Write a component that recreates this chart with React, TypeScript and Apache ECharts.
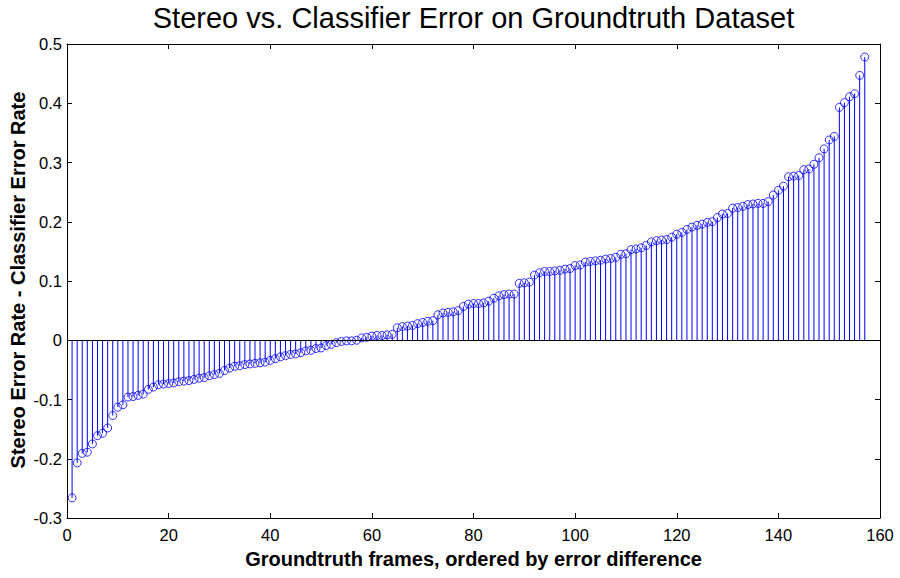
import React, { useEffect, useRef } from "react";
import * as echarts from "echarts";

const TITLE = "Stereo vs. Classifier Error on Groundtruth Dataset";
const X_LABEL = "Groundtruth frames, ordered by error difference";
const Y_LABEL = "Stereo Error Rate - Classifier Error Rate";

// Error difference for each groundtruth frame (frame index = position + 1)
const errorDiff: number[] = [
  -0.266, -0.207, -0.191, -0.189, -0.175, -0.161, -0.157, -0.148, -0.127, -0.113,
  -0.109, -0.096, -0.095, -0.093, -0.091, -0.083, -0.079, -0.075, -0.074, -0.073,
  -0.072, -0.07, -0.069, -0.068, -0.066, -0.064, -0.063, -0.06, -0.058, -0.056,
  -0.051, -0.047, -0.044, -0.043, -0.041, -0.04, -0.039, -0.038, -0.037, -0.034,
  -0.031, -0.028, -0.026, -0.024, -0.023, -0.021, -0.018, -0.017, -0.014, -0.013,
  -0.009, -0.007, -0.004, -0.002, -0.001, -0.001, 0.0, 0.004, 0.005, 0.007,
  0.008, 0.008, 0.009, 0.01, 0.021, 0.023, 0.024, 0.025, 0.028, 0.03,
  0.032, 0.033, 0.043, 0.046, 0.047, 0.048, 0.05, 0.057, 0.061, 0.062,
  0.062, 0.063, 0.066, 0.071, 0.075, 0.077, 0.078, 0.078, 0.096, 0.097,
  0.098, 0.11, 0.114, 0.116, 0.116, 0.117, 0.118, 0.12, 0.121, 0.126,
  0.127, 0.132, 0.133, 0.134, 0.135, 0.137, 0.138, 0.14, 0.145, 0.146,
  0.153, 0.154, 0.156, 0.16, 0.166, 0.168, 0.169, 0.17, 0.174, 0.179,
  0.182, 0.187, 0.191, 0.194, 0.196, 0.199, 0.2, 0.207, 0.213, 0.214,
  0.223, 0.224, 0.226, 0.229, 0.23, 0.231, 0.231, 0.234, 0.245, 0.253,
  0.26, 0.276, 0.277, 0.278, 0.288, 0.289, 0.297, 0.308, 0.323, 0.338,
  0.344, 0.393, 0.401, 0.411, 0.416, 0.447, 0.478,
];

const X_MIN = 0;
const X_MAX = 160;
const X_STEP = 20;
const Y_MIN = -0.3;
const Y_MAX = 0.5;
const Y_STEP = 0.1;

const FONT = "'Liberation Sans', Arial, Helvetica, sans-serif";

export default function App() {
  const ref = useRef<HTMLDivElement>(null);

  useEffect(() => {
    if (!ref.current) return;
    const chart = echarts.init(ref.current, null, { renderer: "svg" });
    const points = errorDiff.map((v, i) => [i + 1, v]);

    const axisCommon = {
      axisLine: { show: true, onZero: false, lineStyle: { color: "#000", width: 1 } },
      axisTick: { show: true, inside: true, length: 5, lineStyle: { color: "#000" } },
      splitLine: { show: false },
    };

    chart.setOption({
      animation: false,
      backgroundColor: "#fff",
      grid: { left: 67, right: 20, top: 44, bottom: 60, containLabel: false },
      xAxis: [
        {
          type: "value",
          min: X_MIN,
          max: X_MAX,
          interval: X_STEP,
          position: "bottom",
          ...axisCommon,
          axisLabel: { color: "#000", fontFamily: FONT, fontSize: 16.5, margin: 8 },
        },
        {
          type: "value",
          min: X_MIN,
          max: X_MAX,
          interval: X_STEP,
          position: "top",
          ...axisCommon,
          axisLabel: { show: false },
        },
      ],
      yAxis: [
        {
          type: "value",
          min: Y_MIN,
          max: Y_MAX,
          interval: Y_STEP,
          position: "left",
          ...axisCommon,
          axisLabel: {
            color: "#000",
            fontFamily: FONT,
            fontSize: 16.5,
            margin: 5,
            formatter: (v: number) => String(+v.toFixed(1)),
          },
        },
        {
          type: "value",
          min: Y_MIN,
          max: Y_MAX,
          interval: Y_STEP,
          position: "right",
          ...axisCommon,
          axisLabel: { show: false },
        },
      ],
      graphic: [
        {
          type: "text",
          x: 473.5,
          y: 18,
          style: {
            text: TITLE,
            fontFamily: FONT,
            fontSize: 29,
            fill: "#000",
            textAlign: "center",
            textVerticalAlign: "middle",
          },
        },
        {
          type: "text",
          x: 473.5,
          y: 559,
          style: {
            text: X_LABEL,
            fontFamily: FONT,
            fontSize: 20,
            fontWeight: "bold",
            fill: "#000",
            textAlign: "center",
            textVerticalAlign: "middle",
          },
        },
        {
          type: "text",
          x: 18,
          y: 280,
          rotation: Math.PI / 2,
          style: {
            text: Y_LABEL,
            fontFamily: FONT,
            fontSize: 20,
            fontWeight: "bold",
            fill: "#000",
            textAlign: "center",
            textVerticalAlign: "middle",
          },
        },
      ],
      series: [
        {
          type: "custom",
          xAxisIndex: 0,
          yAxisIndex: 0,
          data: points,
          silent: true,
          renderItem: (params: any, api: any) => {
            const top = api.coord([api.value(0), api.value(1)]);
            const base = api.coord([api.value(0), 0]);
            return {
              type: "line",
              shape: { x1: top[0], y1: base[1], x2: top[0], y2: top[1] },
              style: { stroke: "#0000ff", lineWidth: 1 },
            };
          },
          markLine: {
            silent: true,
            symbol: ["none", "none"],
            label: { show: false },
            lineStyle: { color: "#000", type: "solid", width: 1 },
            data: [{ yAxis: 0 }],
          },
          z: 2,
        },
        {
          type: "scatter",
          xAxisIndex: 0,
          yAxisIndex: 0,
          data: points,
          symbol: "circle",
          symbolSize: 8,
          silent: true,
          itemStyle: { color: "rgba(0,0,0,0)", borderColor: "#0000ff", borderWidth: 1 },
          z: 3,
        },
      ],
    });

    return () => chart.dispose();
  }, []);

  return (
    <div
      ref={ref}
      style={{ position: "fixed", left: 0, top: 0, width: 900, height: 578, background: "#fff" }}
    />
  );
}
